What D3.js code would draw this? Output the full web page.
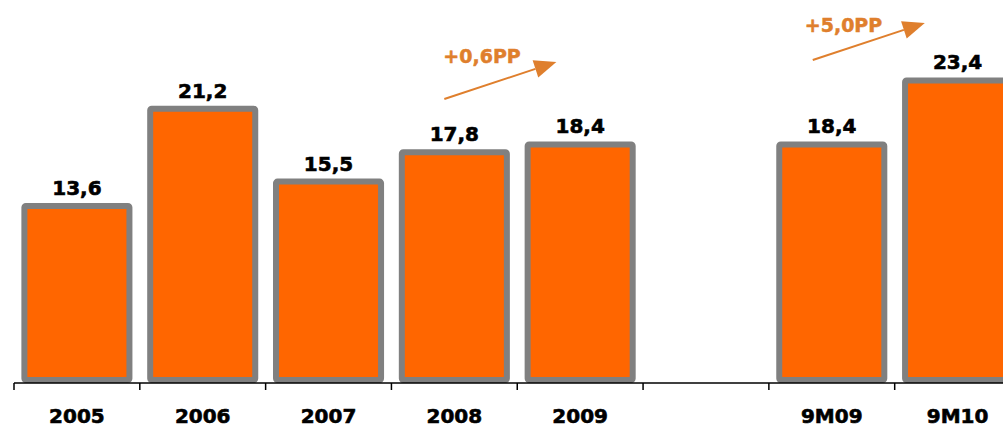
<!DOCTYPE html>
<html>
<head>
<meta charset="utf-8">
<script src="https://cdn.jsdelivr.net/npm/d3@7"></script>
<style>
  body { margin: 0; background: #fff; }
  svg { display: block; }
  text { font-family: "DejaVu Sans", Verdana, sans-serif; font-weight: bold; }
</style>
</head>
<body>
<div id="chart"></div>
<script>
// data
const categories = ["2005", "2006", "2007", "2008", "2009", "", "9M09", "9M10"];
const values = [13.6, 21.2, 15.5, 17.8, 18.4, null, 18.4, 23.4];
const valueLabels = ["13,6", "21,2", "15,5", "17,8", "18,4", "", "18,4", "23,4"];
const changeLabels = ["+0,6PP", "+5,0PP"];
const changeFrom = ["2008", "9M09"];

const width = 1003, height = 428;
const barColor = "#ff6600", borderColor = "#808080", arrowColor = "#df7f2d";

const svg = d3.select("#chart").append("svg")
    .attr("width", width)
    .attr("height", height);

// band scale runs off the right edge, like the original
const x = d3.scaleBand()
    .domain(categories)
    .range([14, 1020.5])
    .padding(0);

const y = d3.scaleLinear()
    .domain([0, 25])
    .range([380, 380 - 25 * 12.8]);

const barW = x.bandwidth() * 0.835;

const data = categories.map((c, i) => ({ cat: c, value: values[i], label: valueLabels[i] }))
    .filter(d => d.value !== null);

// bars
svg.selectAll(".bar")
    .data(data)
    .enter()
    .append("rect")
    .attr("class", "bar")
    .attr("x", d => x(d.cat) + (x.bandwidth() - barW) / 2)
    .attr("y", d => y(d.value))
    .attr("width", barW)
    .attr("height", d => y(0) - y(d.value))
    .attr("rx", 1.5)
    .style("fill", barColor)
    .style("stroke", borderColor)
    .style("stroke-width", 6);

// value labels
svg.selectAll(".value-label")
    .data(data)
    .enter()
    .append("text")
    .attr("class", "value-label")
    .attr("x", d => x(d.cat) + x.bandwidth() / 2)
    .attr("y", d => y(d.value) - 11)
    .attr("text-anchor", "middle")
    .style("font-size", "20px")
    .style("fill", "#000")
    .style("stroke", "#000")
    .style("stroke-width", 0.6)
    .text(d => d.label);

// axis line with ticks at band boundaries
const axisY = 383;
const axis = svg.append("g").attr("class", "axis");
axis.append("line")
    .attr("x1", x.range()[0]).attr("x2", width)
    .attr("y1", axisY).attr("y2", axisY)
    .style("stroke", "#000")
    .style("stroke-width", 1.5);

const boundaries = categories.map(c => x(c)).concat([x.range()[1]]);
axis.selectAll(".tick")
    .data(boundaries)
    .enter()
    .append("line")
    .attr("class", "tick")
    .attr("x1", d => d).attr("x2", d => d)
    .attr("y1", axisY).attr("y2", axisY + 7)
    .style("stroke", "#000")
    .style("stroke-width", 1.5);

axis.selectAll(".cat-label")
    .data(categories)
    .enter()
    .append("text")
    .attr("class", "cat-label")
    .attr("x", d => x(d) + x.bandwidth() / 2)
    .attr("y", 423)
    .attr("text-anchor", "middle")
    .style("font-size", "20px")
    .style("fill", "#000")
    .style("stroke", "#000")
    .style("stroke-width", 0.6)
    .text(d => d);

// change arrows (placement offsets relative to the "from" bar)
const arrowDx = [-10, -19];
const arrowTops = [62, 23];
const labelDx = [-1, -8];
const labelDy = [1, 9];
changeLabels.forEach((label, i) => {
    const cx = x(changeFrom[i]) + x.bandwidth() / 2;
    const x0 = cx + arrowDx[i], y0 = arrowTops[i] + 37;
    const x1 = x0 + 112, y1 = arrowTops[i];
    const ang = Math.atan2(y1 - y0, x1 - x0);
    const len = 22, half = 9;
    const bx = x1 - len * Math.cos(ang), by = y1 - len * Math.sin(ang);
    const px = -Math.sin(ang) * half, py = Math.cos(ang) * half;

    svg.append("line")
        .attr("x1", x0).attr("y1", y0)
        .attr("x2", bx).attr("y2", by)
        .style("stroke", arrowColor)
        .style("stroke-width", 2);

    svg.append("polygon")
        .attr("points", [[x1, y1], [bx + px, by + py], [bx - px, by - py]].map(p => p.join(",")).join(" "))
        .style("fill", arrowColor);

    svg.append("text")
        .attr("x", x0 + labelDx[i])
        .attr("y", y1 + labelDy[i])
        .style("font-size", "19px")
        .style("fill", arrowColor)
        .style("stroke", arrowColor)
        .style("stroke-width", 0.5)
        .text(label);
});
</script>
</body>
</html>
